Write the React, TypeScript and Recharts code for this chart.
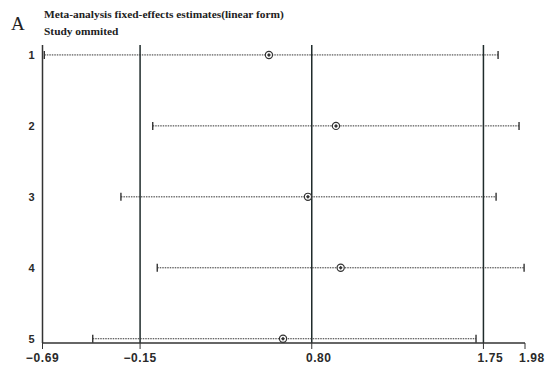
import React from "react";
import { ComposedChart, XAxis, YAxis, Scatter, ReferenceLine } from "recharts";

const studies = [1, 2, 3, 4, 5];
const estimates = [0.563, 0.934, 0.779, 0.96, 0.641];
const lowerCI = [-0.68, -0.08, -0.256, -0.055, -0.412];
const upperCI = [1.831, 1.947, 1.82, 1.975, 1.709];
const xTicks = [-0.69, -0.15, 0.8, 1.75, 1.98];
const refLines = [-0.15, 0.8, 1.75];
const title = "Meta-analysis fixed-effects estimates(linear form)";
const subtitle = "Study ommited";
const panelLabel = "A";

const estData = studies.map((s, i) => ({ x: estimates[i], y: s }));
const capData = studies.flatMap((s, i) => [
  { x: lowerCI[i], y: s },
  { x: upperCI[i], y: s },
]);

const EstShape = (props: any) => {
  const { cx, cy } = props;
  if (cx == null || cy == null) return null;
  return (
    <g>
      <circle cx={cx} cy={cy} r={3.6} fill="#fff" stroke="#333" strokeWidth={1.2} />
      <path d={`M${cx},${cy - 2} L${cx + 2},${cy} L${cx},${cy + 2} L${cx - 2},${cy} Z`} fill="#333" />
    </g>
  );
};

const CapShape = (props: any) => {
  const { cx, cy } = props;
  if (cx == null || cy == null) return null;
  return <line x1={cx} x2={cx} y1={cy - 4} y2={cy + 4} stroke="#333" strokeWidth={1.4} />;
};

const XTick = (props: any) => {
  const { x, y, payload } = props;
  const v = payload.value as number;
  const neg = v < 0;
  const label = (neg ? "\u2212" : "") + Math.abs(v).toFixed(2);
  return (
    <text
      x={x + (neg ? 0 : 7)}
      y={y + 11}
      textAnchor="middle"
      fontFamily="'Liberation Sans', Arial, sans-serif"
      fontWeight="bold"
      fontSize={12}
      fill="#2a2a2a"
      letterSpacing={0.6}
    >
      {label}
    </text>
  );
};

export default function App() {
  return (
    <div style={{ position: "relative", width: 545, height: 363, background: "#fff" }}>
      <div
        style={{
          position: "absolute",
          left: 3,
          top: 5,
          fontFamily: "'Liberation Serif', 'DejaVu Serif', serif",
          fontSize: 19,
          color: "#222",
        }}
      >
        {panelLabel}
      </div>
      <div
        style={{
          position: "absolute",
          left: 36,
          top: -2,
          fontFamily: "'Liberation Serif', 'DejaVu Serif', serif",
          fontWeight: "bold",
          fontSize: 11.4,
          lineHeight: "17px",
          color: "#222",
          whiteSpace: "nowrap",
        }}
      >
        <div>{title}</div>
        <div>{subtitle}</div>
      </div>
      <ComposedChart
        width={545}
        height={363}
        margin={{ top: 37, right: 28, left: 0, bottom: 0 }}
      >
        <XAxis
          type="number"
          dataKey="x"
          domain={[-0.69, 1.98]}
          ticks={xTicks}
          allowDataOverflow
          interval={0}
          height={28}
          tickSize={6}
          stroke="#333"
          tickLine={{ stroke: "#333" }}
          axisLine={{ stroke: "#333", strokeWidth: 1.3 }}
          tick={<XTick />}
        />
        <YAxis
          type="number"
          dataKey="y"
          domain={[0.86, 5.06]}
          reversed
          ticks={studies}
          allowDataOverflow
          interval={0}
          width={34.5}
          tickLine={false}
          axisLine={{ stroke: "#333", strokeWidth: 1.5 }}
          tick={{
            fill: "#2a2a2a",
            fontSize: 11,
            fontWeight: "bold",
            fontFamily: "'Liberation Sans', Arial, sans-serif",
          }}
        />
        {refLines.map((v) => (
          <ReferenceLine key={v} x={v} stroke="#1f2b2b" strokeWidth={1.5} ifOverflow="extendDomain" />
        ))}
        {studies.map((s, i) => (
          <ReferenceLine
            key={"ci" + s}
            segment={[
              { x: lowerCI[i], y: s },
              { x: upperCI[i], y: s },
            ]}
            stroke="#333"
            strokeWidth={1}
            strokeDasharray="1.5 1"
            ifOverflow="visible"
          />
        ))}
        <Scatter data={capData} shape={<CapShape />} isAnimationActive={false} />
        <Scatter data={estData} shape={<EstShape />} isAnimationActive={false} />
      </ComposedChart>
    </div>
  );
}
